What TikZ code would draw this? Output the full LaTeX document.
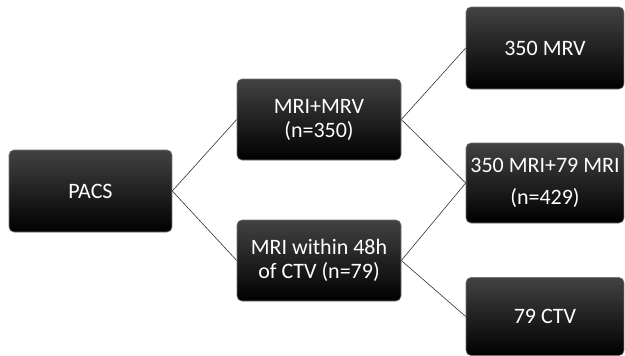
\documentclass[tikz,border=0pt]{standalone}
\usepackage{fontspec}
\setmainfont{Carlito}
\usepackage{tikz}
\usetikzlibrary{positioning}

\begin{document}
\begin{tikzpicture}[x=1pt, y=-1pt,
  box/.style={rectangle, rounded corners=5pt, draw=black!55, line width=0.6pt,
    top color=black!74, bottom color=black, text=white, align=center,
    inner sep=0pt, font=\fontsize{22}{24}\selectfont},
  link/.style={draw=black!80, line width=0.6pt}]

\useasboundingbox (0,0) rectangle (625,356);

\node[box, minimum width=163pt, minimum height=82pt] (P) at (90.5,191) {PACS};

\node[box, minimum width=164pt, minimum height=81pt] (M1) at (319,119.5) {MRI+MRV\\(n=350)};
\node[box, minimum width=164pt, minimum height=81pt] (M2) at (319,260.5) {MRI within 48h\\of CTV (n=79)};

\node[box, minimum width=158pt, minimum height=82pt] (R1) at (545,48) {350 MRV};
\node[box, minimum width=158pt, minimum height=80pt, font=\fontsize{22}{32}\selectfont] (R2) at (545,183) {350 MRI+79 MRI\\(n=429)};
\node[box, minimum width=158pt, minimum height=78pt] (R3) at (545,316.5) {79 CTV};

\draw[link] (P.east) -- (M1.west);
\draw[link] (P.east) -- (M2.west);
\draw[link] (M1.east) -- (R1.west);
\draw[link] (M1.east) -- (R2.west);
\draw[link] (M2.east) -- (R2.west);
\draw[link] (M2.east) -- (R3.west);
\end{tikzpicture}
\end{document}
